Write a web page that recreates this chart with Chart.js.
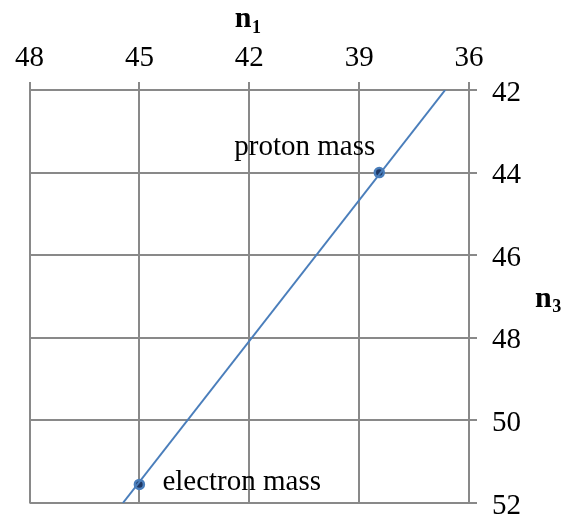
<!DOCTYPE html>
<html>
<head>
<meta charset="utf-8">
<script src="https://cdn.jsdelivr.net/npm/chart.js@4/dist/chart.umd.min.js"></script>
<style>
html,body{margin:0;padding:0;background:#fff;}
#wrap{width:565px;height:523px;position:relative;}
</style>
</head>
<body>
<div id="wrap"><canvas id="c" width="565" height="523"></canvas></div>
<script>
// Data
const lineN1 = [45.45, 36.65];
const lineN3 = [52, 42];
const pointNames = ['electron mass', 'proton mass'];
const pointN1 = [45, 38.45];
const pointN3 = [51.55, 44];
const n1Range = [36, 48, 3];
const n3Range = [42, 52, 2];
const xTitle = ['n', '1'];
const yTitle = ['n', '3'];

const FONT = '"Liberation Serif", "Times New Roman", serif';
const GRID = '#898989';

const labelOffsets = [
  {dx: 23, dy: 5.5, align: 'left'},
  {dx: -4, dy: -18, align: 'right'}
];

const titlesPlugin = {
  id: 'titlesAndLabels',
  afterDraw(chart) {
    const ctx = chart.ctx;
    const xs = chart.scales.x, ys = chart.scales.y;
    ctx.save();
    ctx.fillStyle = '#000';
    ctx.textBaseline = 'alphabetic';
    ctx.font = '29px ' + FONT;
    pointNames.forEach((name, i) => {
      const px = xs.getPixelForValue(pointN1[i]);
      const py = ys.getPixelForValue(pointN3[i]);
      const o = labelOffsets[i];
      ctx.textAlign = o.align;
      ctx.fillText(name, px + o.dx, py + o.dy);
    });
    ctx.textAlign = 'left';
    const drawSub = (parts, x, y) => {
      ctx.font = 'bold 30px ' + FONT;
      ctx.fillText(parts[0], x, y);
      const w = ctx.measureText(parts[0]).width;
      ctx.font = 'bold 18px ' + FONT;
      ctx.fillText(parts[1], x + w + 0.5, y + 5.5);
    };
    const cx = (chart.chartArea.left + chart.chartArea.right) / 2;
    drawSub(xTitle, cx - 14.5, 27);
    const cy = (chart.chartArea.top + chart.chartArea.bottom) / 2;
    drawSub(yTitle, 535, cy + 10);
    ctx.restore();
  }
};

Chart.defaults.font.family = FONT;
Chart.defaults.font.size = 29;
Chart.defaults.color = '#000';

new Chart(document.getElementById('c'), {
  type: 'scatter',
  data: {
    datasets: [
      {
        data: lineN1.map((v, i) => ({x: v, y: lineN3[i]})),
        showLine: true,
        borderColor: '#4a7ebb',
        borderWidth: 2,
        pointRadius: 0,
        pointHoverRadius: 0
      },
      {
        data: pointN1.map((v, i) => ({x: v, y: pointN3[i]})),
        showLine: false,
        pointRadius: 4.5,
        pointBackgroundColor: '#1f3864',
        pointBorderColor: '#4a7ebb',
        pointBorderWidth: 2.5
      }
    ]
  },
  options: {
    responsive: false,
    animation: false,
    events: [],
    layout: {padding: {left: 29.5, right: 0, top: 0, bottom: 20}},
    plugins: {legend: {display: false}, tooltip: {enabled: false}},
    scales: {
      x: {
        type: 'linear',
        position: 'top',
        reverse: true,
        min: n1Range[0], max: n1Range[1],
        ticks: {stepSize: n1Range[2], padding: 6, maxRotation: 0},
        grid: {color: GRID, lineWidth: 2, tickLength: 8, tickColor: GRID},
        border: {color: GRID, width: 2},
        afterFit(s) { s.height = 90; s.paddingLeft = 0; s.paddingRight = 0; }
      },
      y: {
        type: 'linear',
        position: 'right',
        reverse: true,
        min: n3Range[0], max: n3Range[1],
        ticks: {stepSize: n3Range[2], padding: 15, labelOffset: 3},
        grid: {color: GRID, lineWidth: 2, tickLength: 8, tickColor: GRID},
        border: {color: GRID, width: 2},
        afterFit(s) { s.width = 96; s.paddingTop = 0; s.paddingBottom = 0; }
      }
    }
  },
  plugins: [titlesPlugin]
});
</script>
</body>
</html>
